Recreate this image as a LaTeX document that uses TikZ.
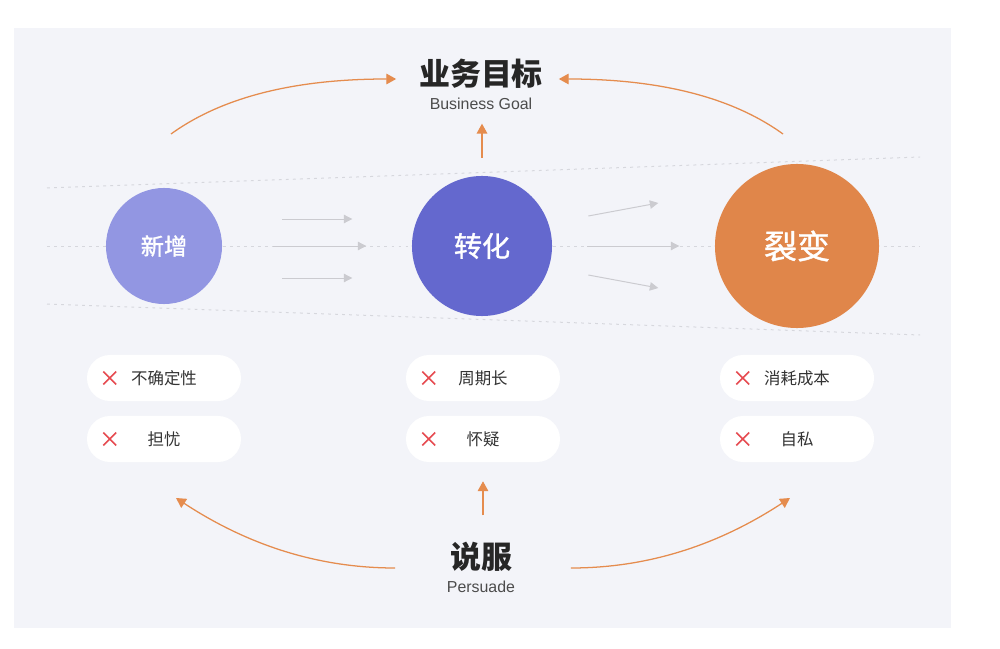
\documentclass[tikz,border=0pt]{standalone}
\usepackage{fontspec}
\usetikzlibrary{positioning,calc,arrows.meta,shapes.misc}
\newfontfamily\cjk{Noto Sans CJK SC}
\newfontfamily\cjkmid[FakeBold=1.2]{Noto Sans CJK SC}
\newfontfamily\latin{Liberation Sans}
\definecolor{bgc}{HTML}{F3F4F9}
\definecolor{newc}{HTML}{9296E2}
\definecolor{convc}{HTML}{6468CE}
\definecolor{fisc}{HTML}{E0864A}
\definecolor{orline}{HTML}{E58C4E}
\definecolor{grayline}{HTML}{CBCBD0}
\definecolor{guidec}{HTML}{D6D7DD}
\definecolor{xred}{HTML}{E64A50}
\definecolor{txt}{HTML}{333333}

\begin{document}
\begin{tikzpicture}[x=0.025cm,y=-0.025cm,font=\cjk,
  stage/.style={circle,text=white,font=\cjkmid},
  pill/.style={fill=white,rounded corners=0.575cm,minimum width=3.85cm,minimum height=1.15cm,
    inner sep=0pt,text=txt,font=\cjk\fontsize{11.7}{12}\selectfont},
  xmark/.style={cross out,draw=xred,line width=1.2pt,minimum size=0.28cm,inner sep=0pt},
  guide/.style={guidec,line width=0.7pt,dash pattern=on 2pt off 3pt},
  flow/.style={grayline,line width=0.7pt,-{Triangle[length=6pt,width=6pt]}},
  orarrow/.style={orline,line width=0.9pt,-{Triangle[length=7pt,width=7.5pt]}}]
\useasboundingbox (0,0) rectangle (1000,649);
\fill[bgc] (14,28) rectangle (951,628);
% guide lines
\draw[guide] (47,188) -- (920,157);
\draw[guide] (47,246) -- (920,246);
\draw[guide] (47,304) -- (920,335);
% stages
\node[stage,fill=newc,minimum size=2.9cm,font=\cjkmid\fontsize{16.5}{17}\selectfont] (cA) at (164,246) {新增};
\node[stage,fill=convc,minimum size=3.5cm,font=\cjkmid\fontsize{20}{20}\selectfont] (cB) at (482,246) {转化};
\node[stage,fill=fisc,minimum size=4.1cm,font=\cjkmid\fontsize{23.5}{24}\selectfont] (cC) at (797,246) {裂变};
% flows
\draw[flow] ($(cA.east)+(60,-27)$) -- ++(70,0);
\draw[flow] ($(cA.east)+(51,0)$) -- ++(93,0);
\draw[flow] ($(cA.east)+(60,32)$) -- ++(70,0);
\draw[flow] ($(cB.east)+(36,-30)$) -- ++(70,-13);
\draw[flow] ($(cB.east)+(35,0)$) -- ++(92,0);
\draw[flow] ($(cB.east)+(36,29)$) -- ++(70,13);
% goal
\node[text=black!85,font=\cjk\bfseries\fontsize{22}{22}\selectfont] (goal) at (481,74) {业务目标};
\node[text=black!70,font=\latin\fontsize{11.3}{12}\selectfont] (goalen) at (481,104) {Business Goal};
\draw[orarrow] ($(cB.north)+(0,-18)$) -- ($(cB.north)+(0,-52)$);
\coordinate (tl) at (171,134);
\coordinate (tr) at (783,134);
\draw[orarrow] (tl) .. controls (225,95) and (300,79) .. ($(goal.west)+(-18,5)$);
\draw[orarrow] (tr) .. controls (729,95) and (654,79) .. ($(goal.east)+(11,5)$);
% pains
\node[pill] (pA1) at (164,378) {不确定性};
\node[pill] (pA2) at (164,439) {担忧};
\node[pill] (pB1) at (483,378) {周期长};
\node[pill] (pB2) at (483,439) {怀疑};
\node[pill] (pC1) at (797,378) {消耗成本};
\node[pill] (pC2) at (797,439) {自私};
\node[xmark] at ($(pA1.west)+(23,0)$) {};
\node[xmark] at ($(pA2.west)+(23,0)$) {};
\node[xmark] at ($(pB1.west)+(23,0)$) {};
\node[xmark] at ($(pB2.west)+(23,0)$) {};
\node[xmark] at ($(pC1.west)+(23,0)$) {};
\node[xmark] at ($(pC2.west)+(23,0)$) {};
% persuade
\node[text=black!85,font=\cjk\bfseries\fontsize{22}{22}\selectfont] (pers) at (481,557) {说服};
\node[text=black!70,font=\latin\fontsize{11.3}{12}\selectfont] (persen) at (481,587) {Persuade};
\draw[orarrow] ($(pB2.south)+(0,53)$) -- ($(pB2.south)+(0,19)$);
\coordinate (bl) at (176,498);
\coordinate (br) at (790,498);
\draw[orarrow] ($(pers.west)+(-50,11)$) .. controls (310,568) and (240,540) .. (bl);
\draw[orarrow] ($(pers.east)+(54,11)$) .. controls (656,568) and (726,540) .. (br);
\end{tikzpicture}
\end{document}
